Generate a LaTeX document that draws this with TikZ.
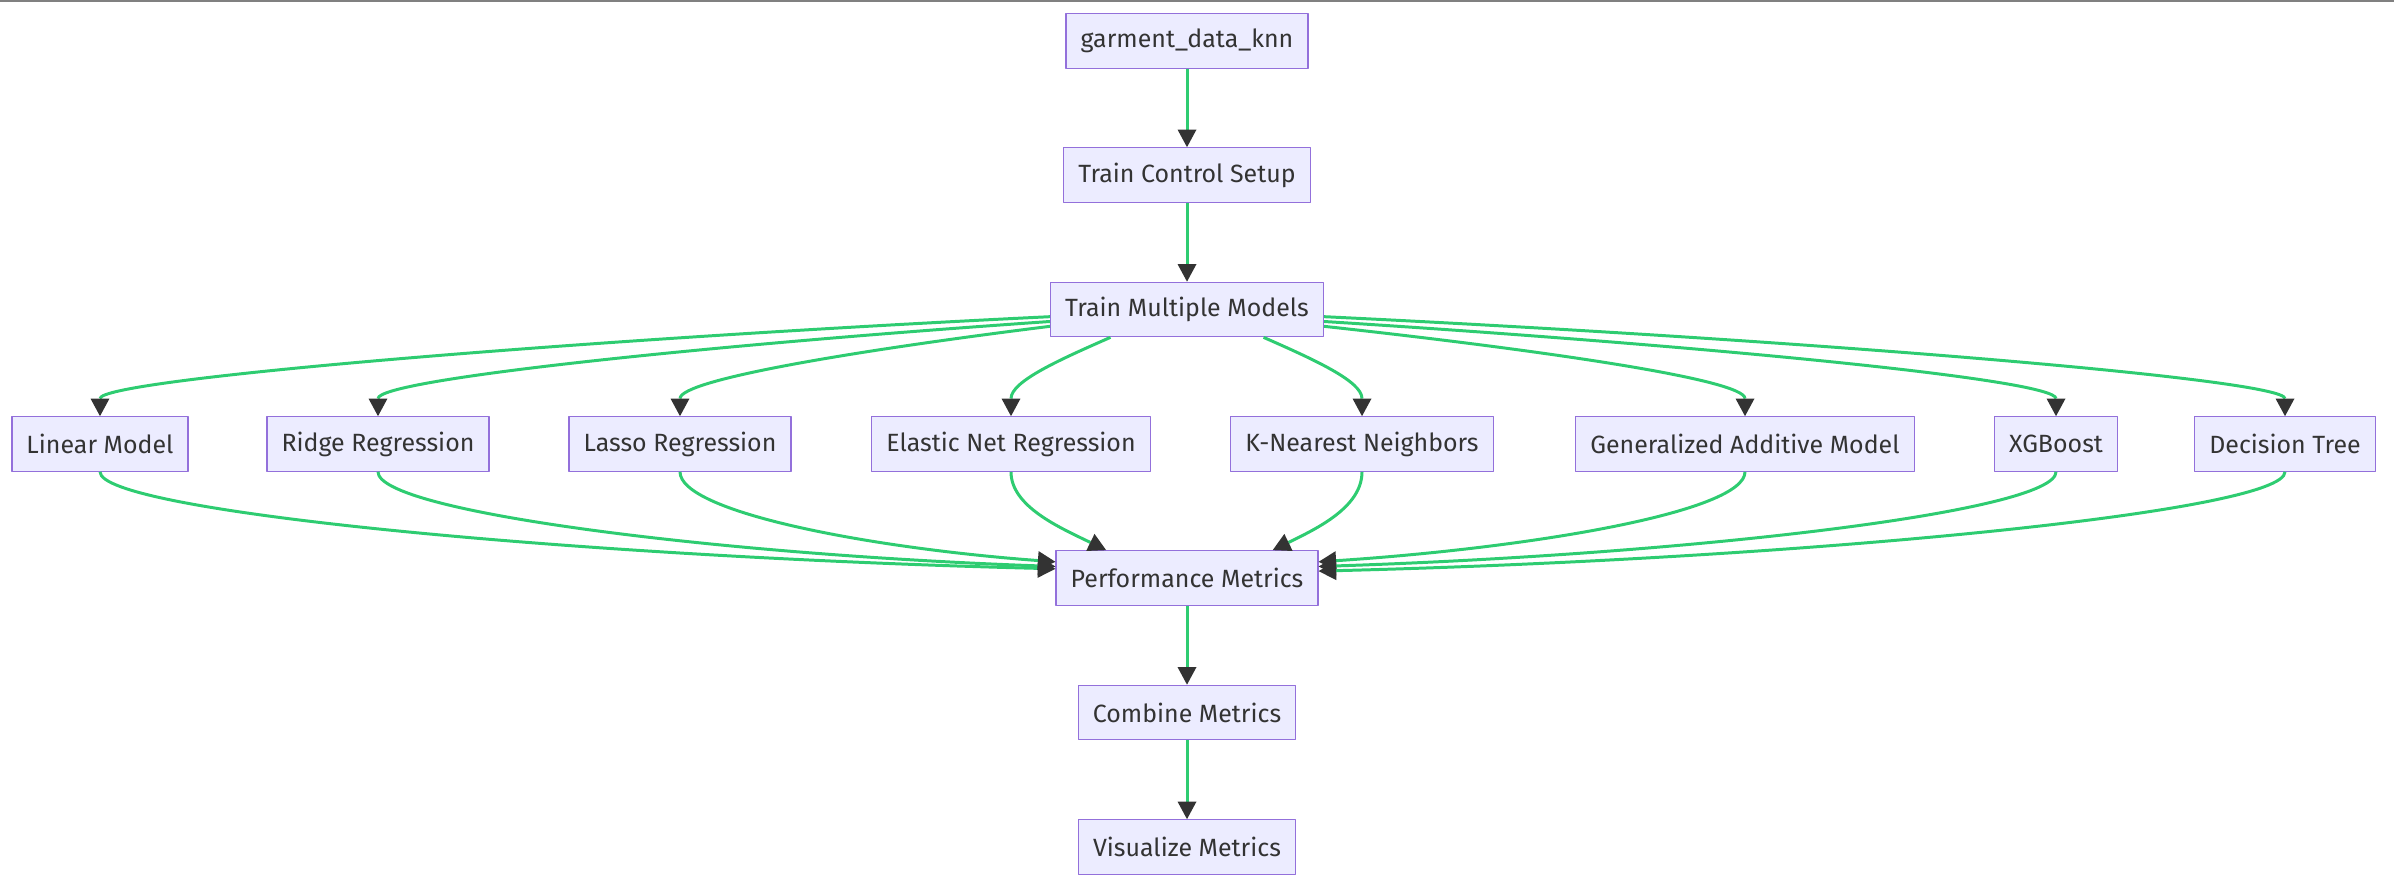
\documentclass[tikz,border=0pt]{standalone}
\usepackage{fontspec}
\setmainfont{Fira Sans}
\usetikzlibrary{arrows.meta}
\definecolor{boxfill}{HTML}{ECECFF}
\definecolor{boxline}{HTML}{9370DB}
\definecolor{linkgreen}{HTML}{2ECC71}
\definecolor{tipgray}{HTML}{333333}
\begin{document}
\begin{tikzpicture}[x=0.02cm, y=-0.02cm, font=\fontsize{14.2}{16}\selectfont, line join=round,
  stepnode/.style={draw=boxline, fill=boxfill, line width=0.7pt, text=tipgray, minimum height=31pt, inner xsep=8.3pt},
  link/.style={draw=linkgreen, line width=1.7pt, -{Triangle[length=10pt, width=10.8pt, line width=0pt, color=tipgray]}}]
\useasboundingbox (0,0) rectangle (2394,895);
\draw[gray, line width=1.1pt] (0,1) -- (2394,1);
% main column
\node[stepnode] (data) at (1187,41) {garment\_data\_knn};
\node[stepnode] (ctrl) at (1187,175) {Train Control Setup};
\node[stepnode] (train) at (1187,309.5) {Train Multiple Models};
\node[stepnode] (perf) at (1187,578) {Performance Metrics};
\node[stepnode] (comb) at (1187,712.5) {Combine Metrics};
\node[stepnode] (vis) at (1187,847) {Visualize Metrics};
% models
\node[stepnode] (lin) at (100,444) {Linear Model};
\node[stepnode] (ridge) at (378,444) {Ridge Regression};
\node[stepnode] (lasso) at (680,444) {Lasso Regression};
\node[stepnode] (enet) at (1011,444) {Elastic Net Regression};
\node[stepnode] (knn) at (1362,444) {K-Nearest Neighbors};
\node[stepnode] (gam) at (1745,444) {Generalized Additive Model};
\node[stepnode] (xgb) at (2056,444) {XGBoost};
\node[stepnode] (tree) at (2285,444) {Decision Tree};
% straight links
\draw[link] (data) -- (ctrl);
\draw[link] (ctrl) -- (train);
\draw[link] (perf) -- (comb);
\draw[link] (comb) -- (vis);
% fan out
\draw[link] (train.183) .. controls +(-475,23) and +(0,-37) .. (lin.north);
\draw[link] (train.185.5) .. controls +(-335,23) and +(0,-37) .. (ridge.north);
\draw[link] (train.187.4) .. controls +(-185,23) and +(0,-37) .. (lasso.north);
\draw[link] (train.200.8) .. controls +(-50,22) and +(0,-35) .. (enet.north);
\draw[link] (train.-20.8) .. controls +(50,22) and +(0,-35) .. (knn.north);
\draw[link] (train.-7.4) .. controls +(210,23) and +(0,-37) .. (gam.north);
\draw[link] (train.-5.5) .. controls +(366,23) and +(0,-37) .. (xgb.north);
\draw[link] (train.-3) .. controls +(480,23) and +(0,-37) .. (tree.north);
% fan in
\draw[link] (lin.south) .. controls +(0,40) and +(-478,-12) .. (perf.176.5);
\draw[link] (ridge.south) .. controls +(0,40) and +(-338,-12) .. (perf.175);
\draw[link] (lasso.south) .. controls +(0,40) and +(-188,-14) .. (perf.173);
\draw[link] (enet.south) .. controls +(0,35) and +(-45,-22) .. (perf.161.2);
\draw[link] (knn.south) .. controls +(0,35) and +(45,-22) .. (perf.18.8);
\draw[link] (gam.south) .. controls +(0,40) and +(213,-14) .. (perf.7);
\draw[link] (xgb.south) .. controls +(0,40) and +(369,-12) .. (perf.5);
\draw[link] (tree.south) .. controls +(0,40) and +(483,-12) .. (perf.3.5);
\end{tikzpicture}
\end{document}
